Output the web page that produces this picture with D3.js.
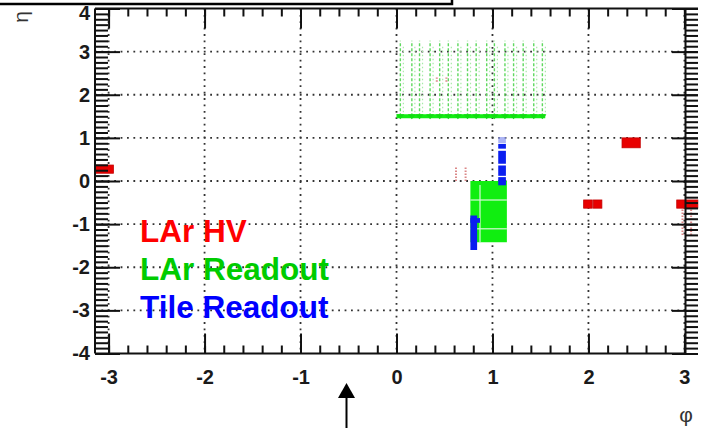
<!DOCTYPE html>
<html><head><meta charset="utf-8">
<script src="https://cdn.jsdelivr.net/npm/d3@7"></script>
<style>
html,body{margin:0;padding:0;background:#fff;}
svg{display:block;}
text{font-family:"Liberation Sans",Arial,sans-serif;}
</style></head>
<body>
<svg id="c" width="704" height="428"></svg>
<script>
// ---------- data ----------
const phiTicks = [-3, -2, -1, 0, 1, 2, 3];
const etaTicks = [-4, -3, -2, -1, 0, 1, 2, 3, 4];
const phiTickLabels = ["-3", "-2", "-1", "0", "1", "2", "3"];
const etaTickLabels = ["-4", "-3", "-2", "-1", "0", "1", "2", "3", "4"];

// LAr HV problem regions: [phi0, phi1, eta0, eta1]
const larHvBoxes = [
  [-3.14, -2.95, 0.18, 0.37],
  [2.35, 2.54, 0.77, 1.00],
  [1.95, 2.04, -0.63, -0.44],
  [2.05, 2.14, -0.63, -0.44],
  [2.92, 3.14, -0.63, -0.44]
];
// faint LAr HV dashed channels: [phi, eta0, eta1]
const larHvFaint = [
  [0.62, 0.00, 0.32],
  [0.72, 0.00, 0.32],
  [2.98, -1.25, -0.63],
  [3.07, -1.25, -0.63],
  [0.42, 2.30, 2.40],
  [0.52, 2.30, 2.40]
];

// LAr Readout: end-cap column phis, eta range, and barrel box
const larReadoutPhi = [0.04, 0.16, 0.24, 0.35, 0.45, 0.54, 0.64, 0.74, 0.83, 0.94, 1.02, 1.13, 1.22, 1.32, 1.43, 1.52];
const larReadoutEta = [1.5, 3.25];
const larReadoutBand = [0.0, 1.55];          // phi extent of the solid line at eta 1.5
const larReadoutBoxes = [[0.77, 1.15, -1.42, 0.0]];
const larSeamPhi = [0.87];
const larSeamEta = [-0.44, -1.11];

// Tile Readout boxes: [phi0, phi1, eta0, eta1]
const tileBoxes = [
  [1.06, 1.14, 0.75, 0.86],
  [1.06, 1.14, 0.40, 0.70],
  [1.06, 1.14, 0.12, 0.36],
  [1.06, 1.14, -0.10, 0.09],
  [0.77, 0.84, -1.60, -0.80],
  [0.77, 0.87, -0.97, -0.86]
];
const tileFaint = [[1.06, 1.14, 0.88, 1.02]];

const legendLabels = ["LAr HV", "LAr Readout", "Tile Readout"];
const legendColors = ["#ff0000", "#00cc00", "#0000ff"];

// ---------- drawing ----------
const svg = d3.select("#c");
const L = 95, R = 698, T = 8.5, B = 353.5, RF = 685.5;
const x = d3.scaleLinear().domain([-Math.PI, Math.PI]).range([L, R]);
const y = d3.scaleLinear().domain([-4, 4]).range([B, T]);

const phiMinor = d3.range(-3.2, 3.21, 0.2).filter(v => v > -Math.PI && v < 3.05);
const etaMinor = d3.range(-4, 4.001, 0.125);

// top-left box (clipped at the page edge)
svg.append("rect").attr("x", -5).attr("y", -6).attr("width", 457).attr("height", 10)
  .attr("fill", "#fff").attr("stroke", "#000").attr("stroke-width", 2.5);

// grid
const grid = svg.append("g").attr("stroke", "#333").attr("stroke-width", 1.8).attr("stroke-dasharray", "1.8,4.6");
grid.selectAll("line.v").data(phiTicks).join("line")
  .attr("x1", d => x(d)).attr("x2", d => x(d)).attr("y1", T).attr("y2", B);
grid.selectAll("line.h").data(etaTicks.filter(d => d > -4 && d < 4)).join("line")
  .attr("x1", L).attr("x2", RF).attr("y1", d => y(d)).attr("y2", d => y(d));

// LAr readout end-cap columns
const g1 = svg.append("g");
g1.selectAll("line.col").data(larReadoutPhi).join("line")
  .attr("x1", d => x(d)).attr("x2", d => x(d))
  .attr("y1", y(larReadoutEta[0])).attr("y2", y(larReadoutEta[1]))
  .attr("stroke", "#5fd85f").attr("stroke-width", 1.4).attr("stroke-dasharray", "3,2");
g1.selectAll("line.col2").data(larReadoutPhi).join("line")
  .attr("x1", d => x(d) + 3).attr("x2", d => x(d) + 3)
  .attr("y1", y(larReadoutEta[0])).attr("y2", y(larReadoutEta[1]) + 6)
  .attr("stroke", "#a8eaa8").attr("stroke-width", 1.2).attr("stroke-dasharray", "1.5,2.5");
g1.append("line")
  .attr("x1", x(larReadoutBand[0])).attr("x2", x(larReadoutBand[1]))
  .attr("y1", y(larReadoutEta[0])).attr("y2", y(larReadoutEta[0]))
  .attr("stroke", "#11ee11").attr("stroke-width", 4);
g1.selectAll("path.tri").data(larReadoutPhi).join("path")
  .attr("d", d => `M${x(d) - 4},${y(larReadoutEta[0]) - 2}L${x(d) + 4},${y(larReadoutEta[0]) - 2}L${x(d)},${y(larReadoutEta[0]) + 3}Z`)
  .attr("fill", "#11dd11");

// LAr readout barrel box
g1.selectAll("rect.lar").data(larReadoutBoxes).join("rect")
  .attr("x", d => x(d[0])).attr("width", d => x(d[1]) - x(d[0]))
  .attr("y", d => y(d[3])).attr("height", d => y(d[2]) - y(d[3]))
  .attr("fill", "#10ee10");
g1.selectAll("line.seamv").data(larSeamPhi).join("line")
  .attr("x1", d => x(d)).attr("x2", d => x(d))
  .attr("y1", y(larReadoutBoxes[0][3]) + 4).attr("y2", y(larReadoutBoxes[0][2]))
  .attr("stroke", "#d8f8d8").attr("stroke-width", 1.5).attr("opacity", 0.8);
g1.selectAll("line.seamh").data(larSeamEta).join("line")
  .attr("x1", x(larReadoutBoxes[0][0])).attr("x2", x(larReadoutBoxes[0][1]))
  .attr("y1", d => y(d)).attr("y2", d => y(d))
  .attr("stroke", "#d8f8d8").attr("stroke-width", 1.5).attr("opacity", 0.8);

// Tile readout
const g2 = svg.append("g");
g2.selectAll("rect.tile").data(tileBoxes).join("rect")
  .attr("x", d => x(d[0])).attr("width", d => x(d[1]) - x(d[0]))
  .attr("y", d => y(d[3])).attr("height", d => y(d[2]) - y(d[3]))
  .attr("fill", "#0a1ef0");
g2.selectAll("rect.tilef").data(tileFaint).join("rect")
  .attr("x", d => x(d[0])).attr("width", d => x(d[1]) - x(d[0]))
  .attr("y", d => y(d[3])).attr("height", d => y(d[2]) - y(d[3]))
  .attr("fill", "#8a96f0").attr("opacity", 0.7);

// LAr HV
const g3 = svg.append("g");
g3.selectAll("rect.hv").data(larHvBoxes).join("rect")
  .attr("x", d => x(d[0])).attr("width", d => x(d[1]) - x(d[0]))
  .attr("y", d => y(d[3])).attr("height", d => y(d[2]) - y(d[3]))
  .attr("fill", "#e80000").attr("stroke", "#c40000").attr("stroke-width", 0.8);
g3.selectAll("line.hvf").data(larHvFaint).join("line")
  .attr("x1", d => x(d[0])).attr("x2", d => x(d[0]))
  .attr("y1", d => y(d[1])).attr("y2", d => y(d[2]))
  .attr("stroke", "#d06060").attr("stroke-width", 2).attr("stroke-dasharray", "1.5,1.5").attr("opacity", 0.75);

// ---------- axes ----------
function styleAxis(g) {
  g.select(".domain").remove();
  g.selectAll(".tick line").attr("stroke", "#111").attr("stroke-width", 2);
  g.selectAll(".tick text").attr("fill", "#1a1a1a").attr("font-size", 20).attr("font-weight", "bold");
}
// bottom
svg.append("g").attr("transform", `translate(0,${B})`)
  .call(d3.axisBottom(x).tickValues(phiMinor).tickSize(-8).tickFormat(""))
  .call(styleAxis);
svg.append("g").attr("transform", `translate(0,${B})`)
  .call(d3.axisBottom(x).tickValues(phiTicks).tickSize(-20).tickPadding(16)
    .tickFormat((d, i) => phiTickLabels[i]))
  .call(styleAxis);
// top
svg.append("g").attr("transform", `translate(0,${T})`)
  .call(d3.axisTop(x).tickValues(phiMinor).tickSize(-8).tickFormat(""))
  .call(styleAxis);
svg.append("g").attr("transform", `translate(0,${T})`)
  .call(d3.axisTop(x).tickValues(phiTicks).tickSize(-20).tickFormat(""))
  .call(styleAxis);
// left
svg.append("g").attr("transform", `translate(${L},0)`)
  .call(d3.axisLeft(y).tickValues(etaMinor).tickSize(-13).tickFormat(""))
  .call(styleAxis);
const leftMajor = svg.append("g").attr("transform", `translate(${L},0)`)
  .call(d3.axisLeft(y).tickValues(etaTicks).tickSize(-25).tickPadding(5)
    .tickFormat((d, i) => etaTickLabels[i]))
  .call(styleAxis);
// keep the top label fully on the page
leftMajor.selectAll(".tick text").filter(d => d === 4).attr("dy", "0.55em");
// right
svg.append("g").attr("transform", `translate(${R},0)`)
  .call(d3.axisRight(y).tickValues(etaMinor).tickSize(-13).tickFormat(""))
  .call(styleAxis);
svg.append("g").attr("transform", `translate(${R},0)`)
  .call(d3.axisRight(y).tickValues(etaTicks).tickSize(-26).tickFormat(""))
  .call(styleAxis);

// frame lines
const frame = svg.append("g").attr("stroke", "#111").attr("stroke-width", 2);
frame.append("line").attr("x1", L).attr("x2", L).attr("y1", T).attr("y2", B);
frame.append("line").attr("x1", RF).attr("x2", RF).attr("y1", T).attr("y2", B);
frame.append("line").attr("x1", L).attr("x2", RF).attr("y1", B).attr("y2", B);
frame.append("line").attr("x1", L).attr("x2", R).attr("y1", T).attr("y2", T);

// axis titles
svg.append("text").attr("transform", "translate(28,17) rotate(-90)")
  .attr("text-anchor", "middle").attr("font-size", 21).attr("fill", "#333").text("η");
svg.append("text").attr("x", 686).attr("y", 422).attr("text-anchor", "middle")
  .attr("font-size", 21).attr("fill", "#333").text("φ");

// legend texts
svg.append("g").selectAll("text").data(legendLabels).join("text")
  .attr("x", 140).attr("y", (d, i) => 242 + i * 38)
  .attr("font-size", 31.5).attr("font-weight", "bold")
  .attr("fill", (d, i) => legendColors[i]).text(d => d);

// arrow
svg.append("line").attr("x1", 346.5).attr("x2", 346.5).attr("y1", 396).attr("y2", 428)
  .attr("stroke", "#000").attr("stroke-width", 2);
svg.append("path").attr("d", "M346.5,383L355,398L338,398Z").attr("fill", "#000");
</script>
</body></html>
